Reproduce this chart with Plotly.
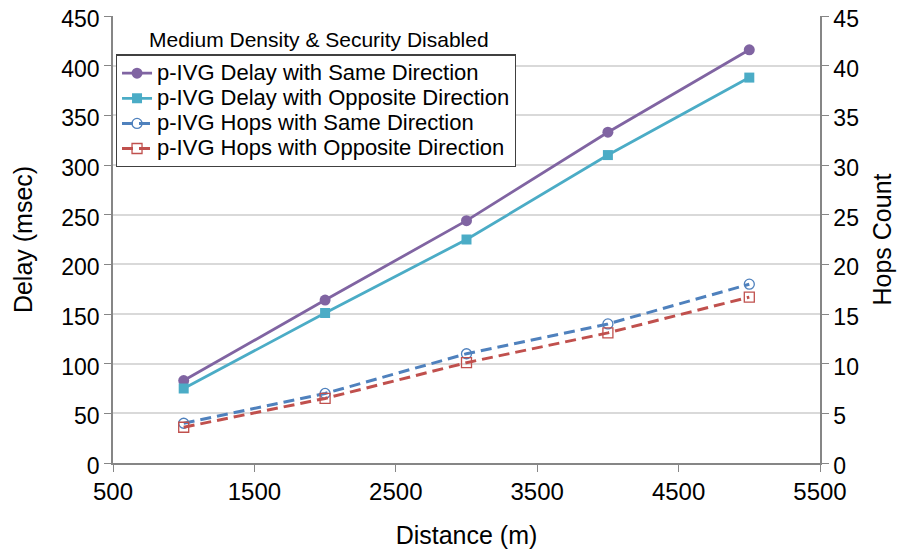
import plotly.graph_objects as go

distance = [1000, 2000, 3000, 4000, 5000]
delay_same = [83, 164, 244, 333, 416]
delay_opposite = [75, 151, 225, 310, 388]
hops_same = [4.0, 7.0, 11.0, 14.0, 18.0]
hops_opposite = [3.6, 6.5, 10.1, 13.1, 16.7]

series_names = ["p-IVG Delay with Same Direction", "p-IVG Delay with Opposite Direction",
                "p-IVG Hops with Same Direction", "p-IVG Hops with Opposite Direction"]
x_ticks = [500, 1500, 2500, 3500, 4500, 5500]
y_ticks = list(range(0, 451, 50))
y2_ticks = list(range(0, 46, 5))

FONT = "Liberation Sans, Arial, sans-serif"


def lg(name):
    return '<span style="font-size:22px">' + name + '</span>'


fig = go.Figure()
fig.add_trace(go.Scatter(x=distance, y=delay_same, name=lg(series_names[0]),
                         mode="lines+markers", line=dict(color="#8064A2", width=2.8),
                         marker=dict(symbol="circle", size=11, color="#8064A2")))
fig.add_trace(go.Scatter(x=distance, y=delay_opposite, name=lg(series_names[1]),
                         mode="lines+markers", line=dict(color="#4BACC6", width=2.8),
                         marker=dict(symbol="square", size=10, color="#4BACC6")))
fig.add_trace(go.Scatter(x=distance, y=hops_same, name=lg(series_names[2]),
                         mode="lines+markers", yaxis="y2",
                         line=dict(color="#4F81BD", width=3, dash="11px,6px"),
                         marker=dict(symbol="circle-open", size=10, color="#4F81BD", line=dict(width=1.3))))
fig.add_trace(go.Scatter(x=distance, y=hops_opposite, name=lg(series_names[3]),
                         mode="lines+markers", yaxis="y2",
                         line=dict(color="#C0504D", width=3, dash="11px,6px"),
                         marker=dict(symbol="square-open", size=10, color="#C0504D", line=dict(width=1.3))))

fig.update_layout(
    width=909, height=555,
    margin=dict(l=105, r=97, t=8, b=100),
    paper_bgcolor="white", plot_bgcolor="white",
    font=dict(family=FONT, size=24, color="black"),
    showlegend=True,
    xaxis=dict(range=[500, 5500], tickvals=x_ticks, ticktext=[str(v) for v in x_ticks],
               showgrid=False, showline=True, linecolor="#868686", linewidth=1.5,
               ticks="outside", ticklen=7, tickcolor="#868686", zeroline=False, automargin=False,
               ticklabeloverflow="allow", ticklabelstandoff=-1,
               title=dict(text="Distance (m)", font=dict(size=25), standoff=23),
               tickfont=dict(size=24)),
    yaxis=dict(range=[0, 450], tickvals=y_ticks, showgrid=True, gridcolor="#D9D9D9", gridwidth=1.5,
               showline=True, linecolor="#868686", linewidth=1.5, ticks="outside", ticklen=7,
               tickcolor="#868686", zeroline=False, automargin=False, ticklabeloverflow="allow",
               ticklabelshift=3,
               title=dict(text="Delay (msec)", font=dict(size=25), standoff=22),
               tickfont=dict(size=23)),
    yaxis2=dict(range=[0, 45], tickvals=y2_ticks, overlaying="y", side="right", showgrid=False,
                showline=True, linecolor="#868686", linewidth=1.5, ticks="outside", ticklen=7,
                tickcolor="#868686", zeroline=False, automargin=False, ticklabeloverflow="allow",
                ticklabelshift=3,
                title=dict(text="Hops Count", font=dict(size=25), standoff=16),
                tickfont=dict(size=23)),
    legend=dict(x=0.004, y=0.914, xanchor="left", yanchor="top",
                bgcolor="white", bordercolor="#404040", borderwidth=1.2,
                font=dict(size=17), tracegroupgap=0, itemwidth=30),
    annotations=[dict(text="Medium Density & Security Disabled", xref="paper", yref="paper",
                      x=0.048, y=0.918, xanchor="left", yanchor="bottom", showarrow=False,
                      font=dict(size=21))],
)

fig.write_html("out.html")
